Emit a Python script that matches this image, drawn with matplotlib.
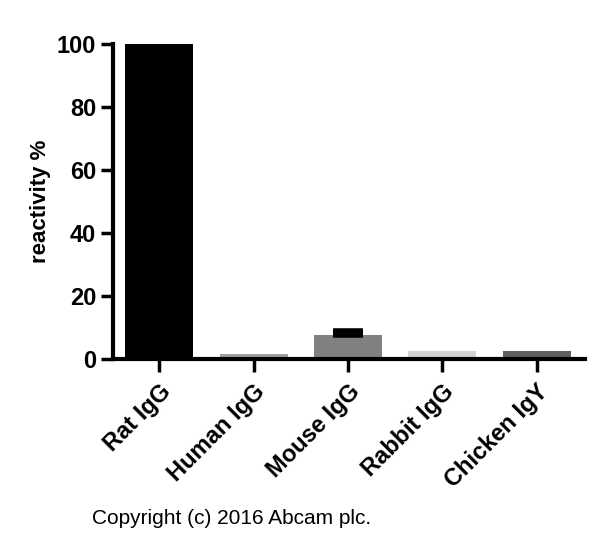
import numpy as np
import matplotlib
matplotlib.use("Agg")
from matplotlib import pyplot as plt

plt.rcParams['font.family'] = ['Liberation Sans', 'DejaVu Sans']

# reactivity of the antibody against IgG of several species
species = ["Rat IgG", "Human IgG", "Mouse IgG", "Rabbit IgG", "Chicken IgY"]
reactivity = [100.0, 1.6, 7.8, 2.5, 2.5]
errors = [0.0, 0.0, 1.1, 0.0, 0.0]
colours = ["#000000", "#a0a0a0", "#808080", "#d3d3d3", "#606060"]

fig = plt.figure(figsize=(6, 5.5), dpi=100)
ax = fig.add_axes([0.188, 0.347, 0.787, 0.573])

x = np.arange(len(species))
ax.bar(x, reactivity, width=0.72, color=colours, zorder=2)
# only the upper half of the error bar is shown
ax.errorbar(x[2], reactivity[2], yerr=[[0], [errors[2]]], fmt="none",
            ecolor="black", elinewidth=2, capsize=11, capthick=4, zorder=3)

ax.set_xlim(-0.49, 4.51)
ax.set_ylim(0, 100)
ax.set_yticks([0, 20, 40, 60, 80, 100])
ax.set_xticks(x)
ax.set_xticklabels(species, rotation=45, ha="right", rotation_mode="anchor",
                   fontsize=17, fontweight="bold")
for lab in ax.get_yticklabels():
    lab.set_fontsize(17)
    lab.set_fontweight("bold")

ax.spines["top"].set_visible(False)
ax.spines["right"].set_visible(False)
ax.spines["left"].set_linewidth(3)
ax.spines["bottom"].set_linewidth(3)
ax.tick_params(axis="both", width=2.5, length=9, pad=3)
ax.tick_params(axis="x", pad=6)

ax.set_ylabel("reactivity %", fontsize=16, fontweight="bold", labelpad=4)

fig.text(0.153, 0.048, "Copyright (c) 2016 Abcam plc.", fontsize=15)

fig.savefig("out.png", dpi=100)
